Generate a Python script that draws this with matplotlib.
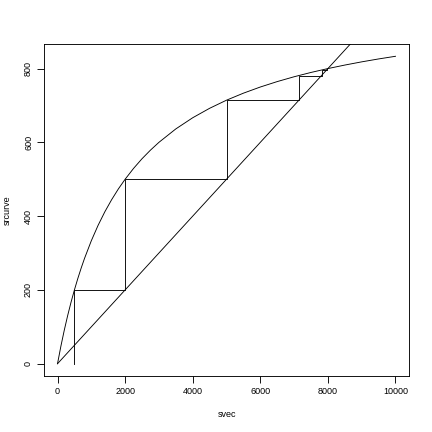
import matplotlib
matplotlib.use("Agg")
import matplotlib.pyplot as plt

# Spawner-recruit curve
svec = [0, 100, 200, 300, 400, 500, 600, 700, 800, 1000, 1200, 1400, 1600, 1800,
        2000, 2250, 2500, 2750, 3000, 3500, 4000, 4500, 5000, 5500, 6000, 6500,
        7000, 7500, 8000, 8500, 9000, 9500, 10000]
srcurve = [0.0, 47.6, 90.9, 130.4, 166.7, 200.0, 230.8, 259.3, 285.7, 333.3,
           375.0, 411.8, 444.4, 473.7, 500.0, 529.4, 555.6, 578.9, 600.0, 636.4,
           666.7, 692.3, 714.3, 733.3, 750.0, 764.7, 777.8, 789.5, 800.0, 809.5,
           818.2, 826.1, 833.3]
# replacement line (recruits = spawners / 10)
line_x = [0, 10000]
line_y = [0, 1000]
# cobweb staircase
step_x = [500, 500, 2000, 2000, 5000, 5000, 7143, 7143, 7812, 7812, 7961, 7961]
step_y = [0, 200, 200, 500, 500, 714, 714, 781, 781, 796, 796, 799]

plt.rcParams['font.family'] = ['Liberation Sans', 'DejaVu Sans']
fig = plt.figure(figsize=(6, 6), dpi=72)
ax = fig.add_axes([44/432, 1-376/432, (409-44)/432, (376-44)/432])

ax.plot(svec, srcurve, color='black', lw=0.9)
ax.plot(line_x, line_y, color='black', lw=0.9)
ax.plot(step_x, step_y, color='black', lw=0.9)

ax.set_xlim(-400, 10400)
ax.set_ylim(-33.3, 866.6)
ax.set_xticks([0, 2000, 4000, 6000, 8000, 10000])
ax.set_yticks([0, 200, 400, 600, 800])
for lab in ax.get_yticklabels():
    lab.set_rotation(90)
    lab.set_va('center')
ax.tick_params(direction='out', length=7, width=0.9, labelsize=9, pad=4)
for s in ax.spines.values():
    s.set_linewidth(0.9)
ax.set_xlabel('svec', fontsize=9, labelpad=14)
ax.set_ylabel('srcurve', fontsize=9, labelpad=12)

fig.savefig('out.png', dpi=72)
